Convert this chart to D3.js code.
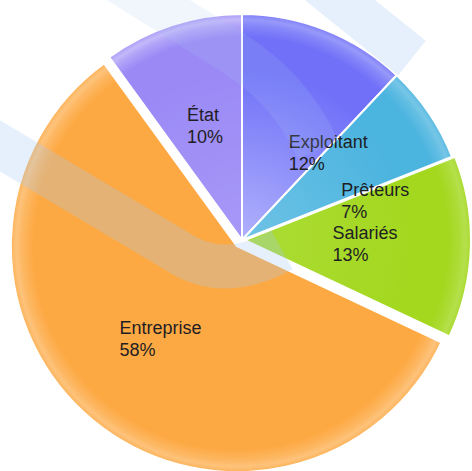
<!DOCTYPE html>
<html>
<head>
<meta charset="utf-8">
<script src="https://cdn.jsdelivr.net/npm/d3@7"></script>
<style>
    body { margin: 0; background: #fff; }
    svg { display: block; }
    .label { font-family: "Liberation Sans", Arial, sans-serif; font-size: 18px; fill: #1e1e24; }
</style>
</head>
<body>
<svg id="pie" width="472" height="471"></svg>
<script>
// data (clockwise from 12 o'clock)
const categories = ["Exploitant", "Prêteurs", "Salariés", "Entreprise", "État"];
const shares = [12, 7, 13, 58, 10];

// layout / style
const cx = 242, cy = 240,
    radius = 226,
    labelRadius = 120;

let explodeBy = {"Salariés": 3, "Entreprise": 8};
let labelNudge = {"Exploitant": [42, 25], "Prêteurs": [34, 28]};

// base fill, strength of the glossy rim, how much the centre brightens
let sliceColor = {
    "Exploitant": {base: "#7071f8", rim: 0.7, glow: 0.45},
    "Prêteurs": {base: "#4bb4df", rim: 0.6, glow: 0.2},
    "Salariés": {base: "#a3d81f", rim: 0.5, glow: 0.1},
    "Entreprise": {base: "#fda943", rim: 0.75, glow: 0},
    "État": {base: "#9b8af6", rim: 1, glow: 0.12}
};

let data = categories.map(function (c, i) {
    return {name: c, value: shares[i]};
});

let svg = d3.select("#pie");
let defs = svg.append("defs");

let pie = d3.pie()
    .sort(null)
    .value(function (d) { return d.value; });

let arc = d3.arc()
    .innerRadius(0)
    .outerRadius(radius);

let labelArc = d3.arc()
    .innerRadius(labelRadius)
    .outerRadius(labelRadius);

let arcs = pie(data);

// offset of every slice along its middle angle
arcs.forEach(function (d) {
    let mid = (d.startAngle + d.endAngle) / 2,
        off = explodeBy[d.data.name] || 0;
    d.dx = cx + Math.sin(mid) * off;
    d.dy = cy - Math.cos(mid) * off;
});

// gradients live in each slice's own (translated) space, centred at 0,0
function whiteGradient(id, stops) {
    let g = defs.append("radialGradient")
        .attr("id", id)
        .attr("gradientUnits", "userSpaceOnUse")
        .attr("cx", 0).attr("cy", 0).attr("r", radius);
    stops.forEach(function (s) {
        g.append("stop").attr("offset", s[0])
            .attr("stop-color", "#fff").attr("stop-opacity", s[1]);
    });
}
whiteGradient("glow", [[0, 1], [0.75, 0]]);
whiteGradient("rim", [[0.9, 0], [0.95, 0.22], [0.975, 0.4], [1, 0.15]]);

let slice = svg.append("g").attr("id", "slices")
    .selectAll("g")
    .data(arcs)
    .enter()
    .append("g")
    .attr("transform", function (d) { return "translate(" + d.dx + "," + d.dy + ")"; });

slice.append("path")
    .attr("d", arc)
    .attr("fill", function (d) { return sliceColor[d.data.name].base; });

slice.append("path")
    .attr("d", arc)
    .attr("fill", "url(#glow)")
    .attr("fill-opacity", function (d) { return sliceColor[d.data.name].glow; });

slice.append("path")
    .attr("d", arc)
    .attr("fill", "url(#rim)")
    .attr("fill-opacity", function (d) { return sliceColor[d.data.name].rim; });

slice.append("path")
    .attr("d", arc)
    .attr("fill", "none")
    .attr("stroke", "#fff")
    .attr("stroke-width", 2)
    .attr("stroke-linejoin", "round");

// labels: two lines, left aligned, block centred on the label point
let labels = svg.append("g").attr("id", "labels")
    .selectAll("text")
    .data(arcs)
    .enter()
    .append("text")
    .attr("class", "label");

labels.append("tspan").attr("class", "name").text(function (d) { return d.data.name; });
labels.append("tspan").attr("class", "pct").text(function (d) { return d.data.value + "%"; });

labels.each(function (d) {
    let t = d3.select(this),
        w = Math.max(t.select(".name").node().getComputedTextLength(),
            t.select(".pct").node().getComputedTextLength()),
        c = labelArc.centroid(d),
        n = labelNudge[d.data.name] || [0, 0],
        x = d.dx + c[0] + n[0] - w / 2,
        y = d.dy + c[1] + n[1];
    t.select(".name").attr("x", x).attr("y", y - 5);
    t.select(".pct").attr("x", x).attr("y", y + 17);
});

// faint blue watermark swooshes lying over the chart
let mark = svg.append("g").attr("id", "watermark")
    .attr("fill", "none")
    .attr("stroke", "rgb(165,202,245)")
    .attr("stroke-width", 44);

mark.append("path").attr("d", "M -30,128 L 175,250 Q 222,283 282,250")
    .attr("stroke-opacity", 0.28);
mark.append("path").attr("d", "M 100,-30 L 232,52 Q 292,90 318,150")
    .attr("stroke-opacity", 0.16);
mark.append("path").attr("d", "M 290,-40 L 412,58")
    .attr("stroke-opacity", 0.28);
</script>
</body>
</html>
